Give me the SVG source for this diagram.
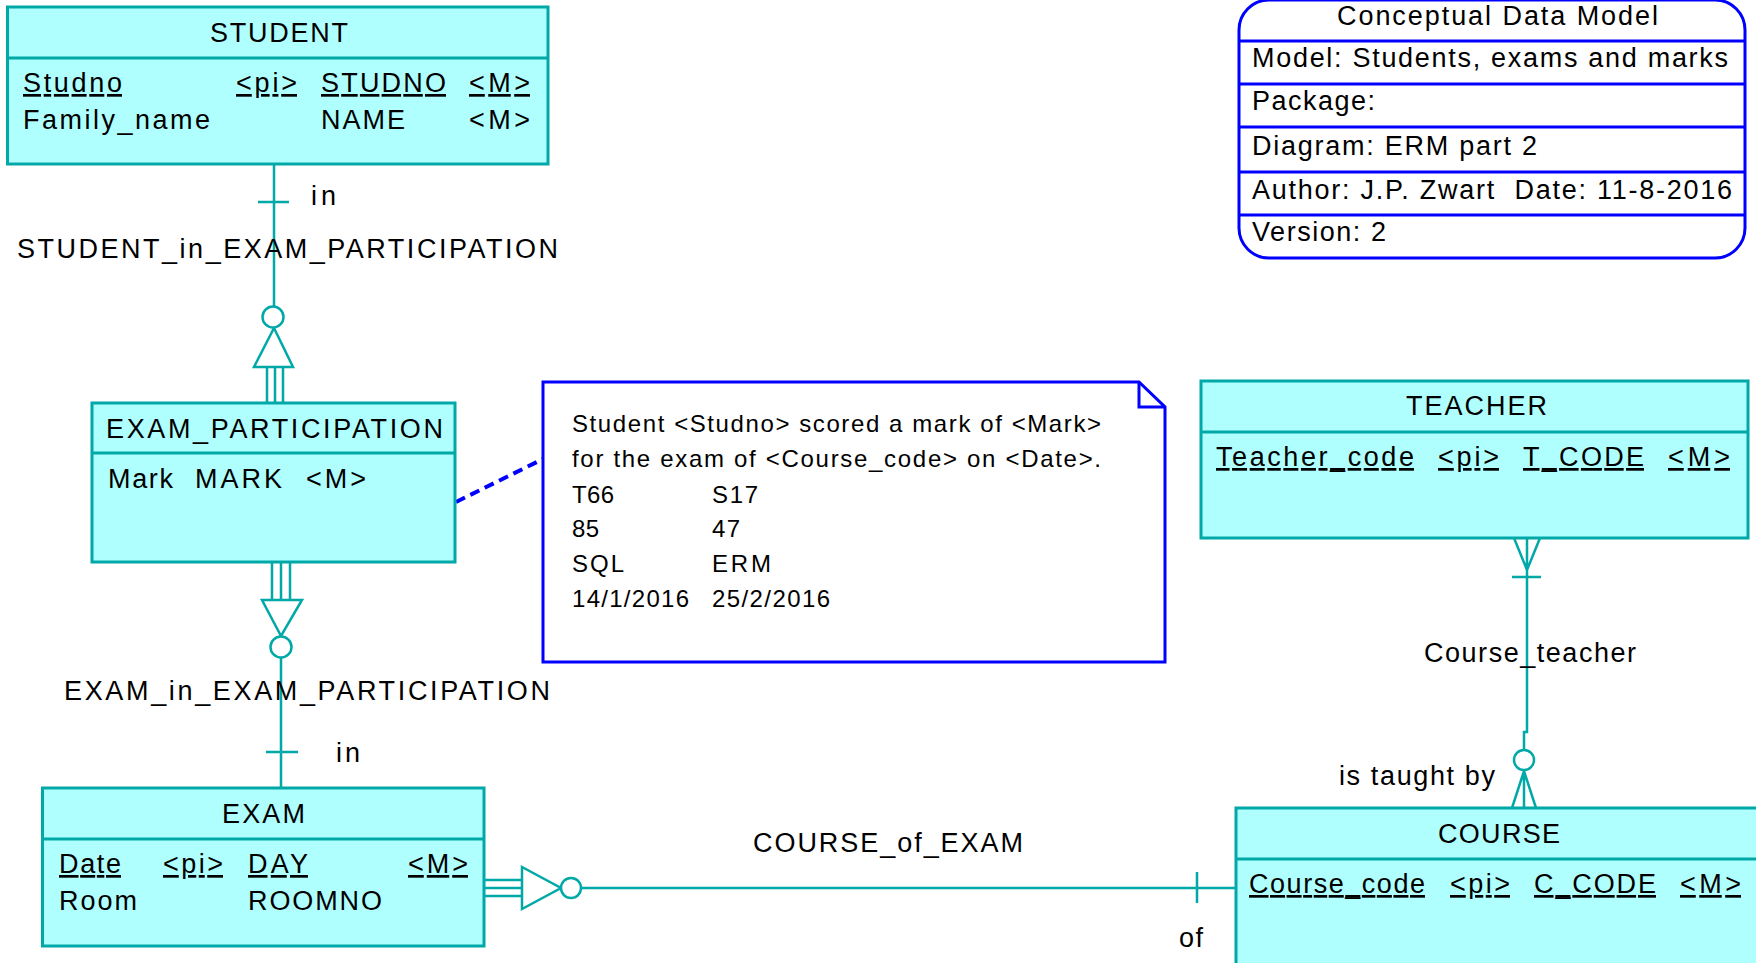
<svg xmlns="http://www.w3.org/2000/svg" width="1756" height="963" viewBox="0 0 1756 963">
<style>
 .ent{fill:#B0FFFF;stroke:#00A8A8;stroke-width:3}
 .sep{stroke:#00A8A8;stroke-width:3;fill:none}
 text{font-family:"Liberation Sans",Arial,sans-serif;fill:#000}
 .e{font-size:27px}
 .u{text-decoration:underline}
 .c{fill:none;stroke:#00A8A8;stroke-width:2.5}
 .cw{fill:#fff;stroke:#00A8A8;stroke-width:2.5}
 .blue{fill:#fff;stroke:#0000FF;stroke-width:3}
 .bl{fill:none;stroke:#0000FF;stroke-width:3}
 .dash{fill:none;stroke:#0000FF;stroke-width:4;stroke-dasharray:10 6}
 .n{font-size:24px}
</style>
<rect width="1756" height="963" fill="#fff"/>

<g id="connectors">
 <g id="c-student-ep">
  <path class="c" d="M274 164 V306 M258 202 H289 M267 367 V403 M275 367 V403 M283 367 V403"/>
  <path class="cw" d="M274 328 L254 367 H293 Z"/>
  <circle class="cw" cx="273" cy="317" r="10.5"/>
  <text class="e" x="311" y="205" textLength="25" lengthAdjust="spacing">in</text>
  <text class="e" x="17" y="258" textLength="541" lengthAdjust="spacing">STUDENT_in_EXAM_PARTICIPATION</text>
 </g>
 <g id="c-exam-ep">
  <path class="c" d="M272 562 V600 M281 562 V600 M290 562 V600 M281 658 V788 M266 752 H298"/>
  <path class="cw" d="M262 600 H302 L281 636 Z"/>
  <circle class="cw" cx="281" cy="647" r="10.5"/>
  <text class="e" x="336" y="762" textLength="24" lengthAdjust="spacing">in</text>
  <text class="e" x="64" y="700" textLength="486" lengthAdjust="spacing">EXAM_in_EXAM_PARTICIPATION</text>
 </g>
 <g id="c-course-exam">
  <path class="c" d="M484 880 H522 M484 888 H522 M484 896 H522 M581 888 H1236 M1197 872 V903"/>
  <path class="cw" d="M522 867 V909 L561 888 Z"/>
  <circle class="cw" cx="571" cy="888" r="10"/>
  <text class="e" x="753" y="852" textLength="270" lengthAdjust="spacing">COURSE_of_EXAM</text>
  <text class="e" x="1179" y="947" textLength="24" lengthAdjust="spacing">of</text>
 </g>
 <g id="c-course-teacher">
  <path class="c" d="M1514 538 L1527 570 L1540 538 M1527 538 V732 H1524 V750 M1512 577 H1541 M1512 808 L1524 771 L1536 808 M1524 771 V808"/>
  <circle class="cw" cx="1524" cy="760" r="10"/>
  <text class="e" x="1424" y="662" textLength="212" lengthAdjust="spacing">Course_teacher</text>
  <text class="e" x="1339" y="785" textLength="156" lengthAdjust="spacing">is taught by</text>
 </g>
 <path id="c-note" class="dash" d="M456 502 L543 459"/>
</g>

<g id="student">
 <rect class="ent" x="7.5" y="7" width="540.5" height="157"/>
 <path class="sep" d="M7.5 58 H548"/>
 <text class="e" x="210" y="42" textLength="138" lengthAdjust="spacing">STUDENT</text>
 <text class="e u" x="23" y="92" textLength="99" lengthAdjust="spacing">Studno</text>
 <text class="e u" x="236" y="92" textLength="61" lengthAdjust="spacing">&lt;pi&gt;</text>
 <text class="e u" x="321" y="92" textLength="125" lengthAdjust="spacing">STUDNO</text>
 <text class="e u" x="469" y="92" textLength="61" lengthAdjust="spacing">&lt;M&gt;</text>
 <text class="e" x="23" y="129" textLength="187" lengthAdjust="spacing">Family_name</text>
 <text class="e" x="321" y="129" textLength="84" lengthAdjust="spacing">NAME</text>
 <text class="e" x="469" y="129" textLength="61" lengthAdjust="spacing">&lt;M&gt;</text>
</g>

<g id="exam_participation">
 <rect class="ent" x="92" y="403" width="363" height="159"/>
 <path class="sep" d="M92 453 H455"/>
 <text class="e" x="106" y="438" textLength="337" lengthAdjust="spacing">EXAM_PARTICIPATION</text>
 <text class="e" x="108" y="488" textLength="65" lengthAdjust="spacing">Mark</text>
 <text class="e" x="195" y="488" textLength="87" lengthAdjust="spacing">MARK</text>
 <text class="e" x="306" y="488" textLength="60" lengthAdjust="spacing">&lt;M&gt;</text>
</g>

<g id="exam">
 <rect class="ent" x="42.5" y="788" width="441.5" height="158"/>
 <path class="sep" d="M42.5 839 H484"/>
 <text class="e" x="222" y="823" textLength="83" lengthAdjust="spacing">EXAM</text>
 <text class="e u" x="59" y="873" textLength="62" lengthAdjust="spacing">Date</text>
 <text class="e u" x="163" y="873" textLength="60" lengthAdjust="spacing">&lt;pi&gt;</text>
 <text class="e u" x="248" y="873" textLength="60" lengthAdjust="spacing">DAY</text>
 <text class="e u" x="408" y="873" textLength="60" lengthAdjust="spacing">&lt;M&gt;</text>
 <text class="e" x="59" y="910" textLength="78" lengthAdjust="spacing">Room</text>
 <text class="e" x="248" y="910" textLength="134" lengthAdjust="spacing">ROOMNO</text>
</g>

<g id="teacher">
 <rect class="ent" x="1201" y="381" width="547" height="157"/>
 <path class="sep" d="M1201 432 H1748"/>
 <text class="e" x="1406" y="415" textLength="141" lengthAdjust="spacing">TEACHER</text>
 <text class="e u" x="1216" y="466" textLength="198" lengthAdjust="spacing">Teacher_code</text>
 <text class="e u" x="1438" y="466" textLength="61" lengthAdjust="spacing">&lt;pi&gt;</text>
 <text class="e u" x="1523" y="466" textLength="121" lengthAdjust="spacing">T_CODE</text>
 <text class="e u" x="1668" y="466" textLength="62" lengthAdjust="spacing">&lt;M&gt;</text>
</g>

<g id="course">
 <rect class="ent" x="1236" y="808" width="530" height="170"/>
 <path class="sep" d="M1236 859 H1766"/>
 <text class="e" x="1438" y="843" textLength="122" lengthAdjust="spacing">COURSE</text>
 <text class="e u" x="1249" y="893" textLength="176" lengthAdjust="spacing">Course_code</text>
 <text class="e u" x="1450" y="893" textLength="60" lengthAdjust="spacing">&lt;pi&gt;</text>
 <text class="e u" x="1534" y="893" textLength="122" lengthAdjust="spacing">C_CODE</text>
 <text class="e u" x="1680" y="893" textLength="61" lengthAdjust="spacing">&lt;M&gt;</text>
</g>

<g id="note">
 <path class="blue" d="M543 382 H1139 L1165 407 V662 H543 Z"/>
 <path class="bl" d="M1139 382 V407 H1165"/>
 <text class="n" x="572" y="432" textLength="529" lengthAdjust="spacing">Student &lt;Studno&gt; scored a mark of &lt;Mark&gt;</text>
 <text class="n" x="572" y="467" textLength="529" lengthAdjust="spacing">for the exam of &lt;Course_code&gt; on &lt;Date&gt;.</text>
 <text class="n" x="572" y="503" textLength="42" lengthAdjust="spacing">T66</text>
 <text class="n" x="712" y="503" textLength="46" lengthAdjust="spacing">S17</text>
 <text class="n" x="572" y="537" textLength="27" lengthAdjust="spacing">85</text>
 <text class="n" x="712" y="537" textLength="28" lengthAdjust="spacing">47</text>
 <text class="n" x="572" y="572" textLength="52" lengthAdjust="spacing">SQL</text>
 <text class="n" x="712" y="572" textLength="59" lengthAdjust="spacing">ERM</text>
 <text class="n" x="572" y="607" textLength="117" lengthAdjust="spacing">14/1/2016</text>
 <text class="n" x="712" y="607" textLength="118" lengthAdjust="spacing">25/2/2016</text>
</g>

<g id="title_block">
 <rect class="blue" x="1239" y="0" width="506" height="258" rx="30" ry="30"/>
 <path class="bl" d="M1239 41 H1745 M1239 84 H1745 M1239 127 H1745 M1239 172 H1745 M1239 215 H1745"/>
 <text class="e" x="1337" y="25" textLength="321" lengthAdjust="spacing">Conceptual Data Model</text>
 <text class="e" x="1252" y="67" textLength="476" lengthAdjust="spacing">Model: Students, exams and marks</text>
 <text class="e" x="1252" y="110" textLength="123" lengthAdjust="spacing">Package:</text>
 <text class="e" x="1252" y="155" textLength="285" lengthAdjust="spacing">Diagram: ERM part 2</text>
 <text class="e" x="1252" y="199" textLength="480" lengthAdjust="spacing" xml:space="preserve" style="white-space:pre">Author: J.P. Zwart  Date: 11-8-2016</text>
 <text class="e" x="1252" y="241" textLength="134" lengthAdjust="spacing">Version: 2</text>
</g>
</svg>
